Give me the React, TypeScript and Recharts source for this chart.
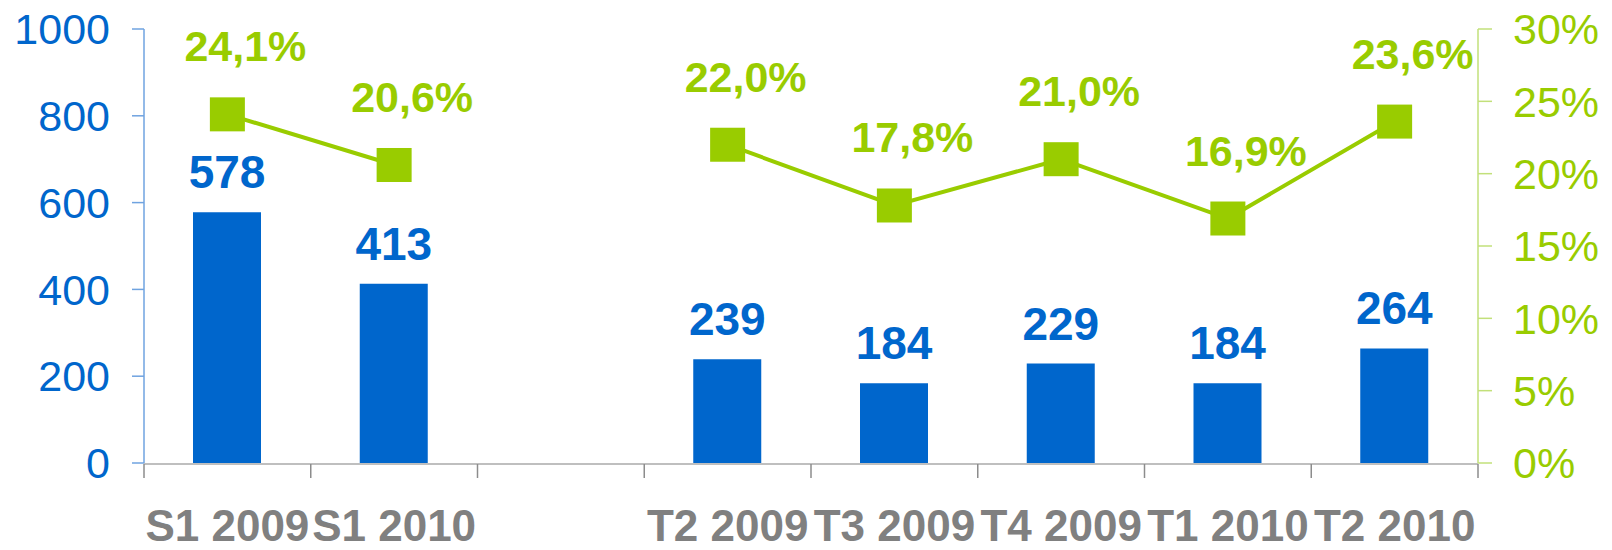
import React from "react";
import {
  ComposedChart,
  Bar,
  Line,
  XAxis,
  YAxis,
  LabelList,
} from "recharts";

const categories = ["S1 2009", "S1 2010", "", "T2 2009", "T3 2009", "T4 2009", "T1 2010", "T2 2010"];
const volume = [578, 413, null, 239, 184, 229, 184, 264];
const marginPct = [24.1, 20.6, null, 22.0, 17.8, 21.0, 16.9, 23.6];
const leftTicks = [0, 200, 400, 600, 800, 1000];
const rightTicks = [0, 5, 10, 15, 20, 25, 30];
const slotTicks = [0, 1, 2, 3, 4, 5, 6, 7, 8];

const data = categories.map((c, i) => ({ cat: c, slot: i + 0.5, volume: volume[i], pct: marginPct[i] }));

const BLUE = "#0066CC";
const GREEN = "#99CC00";
const FONT = "'Liberation Sans', Arial, sans-serif";

// category labels sit well below the axis line
function CatTick({ x, y, payload }: any) {
  return (
    <text x={x} y={y + 78} textAnchor="middle" fill="#808080" fontSize={44} fontWeight="bold" fontFamily={FONT}>
      {payload.value}
    </text>
  );
}

function SquareDot(p: any) {
  const { cx, cy, value, index } = p;
  if (value == null || cx == null || cy == null) return <g key={`d-${index}`} />;
  return <rect key={`d-${index}`} x={cx - 17.5} y={cy - 17} width={35} height={34} fill={GREEN} />;
}

function BarLabel({ x, y, width, value }: any) {
  if (value == null) return null;
  return (
    <text x={x + width / 2} y={y - 24} textAnchor="middle" fill={BLUE} fontSize={46} fontWeight="bold" fontFamily={FONT}>
      {value}
    </text>
  );
}

function PctLabel({ x, y, value }: any) {
  if (value == null) return null;
  return (
    <text x={x + 18} y={y - 53} textAnchor="middle" fill={GREEN} fontSize={43} fontWeight="bold" fontFamily={FONT}>
      {Number(value).toFixed(1).replace(".", ",")}%
    </text>
  );
}

export default function App() {
  return (
    <div style={{ position: "absolute", left: 0, top: 0, width: 1612, height: 550, background: "#fff" }}>
      <ComposedChart width={1612} height={550} data={data} margin={{ top: 29, right: 0, left: 0, bottom: 0 }}>
        <XAxis
          dataKey="cat"
          height={1}
          interval={0}
          axisLine={false}
          tickLine={false}
          tickSize={0}
          tickMargin={0}
          tick={<CatTick />}
        />
        <XAxis
          xAxisId="slots"
          dataKey="slot"
          type="number"
          domain={[0, 8]}
          ticks={slotTicks}
          allowDataOverflow
          height={86}
          interval={0}
          tick={() => <g />}
          tickSize={14}
          axisLine={{ stroke: "#BFBFBF", strokeWidth: 2 }}
          tickLine={{ stroke: "#8C8C8C", strokeWidth: 1.5 }}
        />
        <YAxis
          yAxisId="left"
          width={144}
          domain={[0, 1000]}
          ticks={leftTicks}
          interval={0}
          tickSize={12}
          tickMargin={22}
          axisLine={{ stroke: "#6FA3E0", strokeWidth: 1.5 }}
          tickLine={{ stroke: "#6FA3E0", strokeWidth: 1.5 }}
          tick={{ fill: BLUE, fontSize: 43, fontFamily: FONT }}
        />
        <YAxis
          yAxisId="right"
          orientation="right"
          width={134}
          domain={[0, 30]}
          ticks={rightTicks}
          interval={0}
          tickSize={14}
          tickMargin={21}
          tickFormatter={(v: number) => `${v}%`}
          axisLine={{ stroke: "#C2E07A", strokeWidth: 1.5 }}
          tickLine={{ stroke: "#C2E07A", strokeWidth: 1.5 }}
          tick={{ fill: GREEN, fontSize: 43, fontFamily: FONT, textAnchor: "start" }}
        />
        <Bar yAxisId="left" dataKey="volume" fill={BLUE} barSize={68} isAnimationActive={false}>
          <LabelList dataKey="volume" content={<BarLabel />} />
        </Bar>
        <Line
          yAxisId="right"
          dataKey="pct"
          stroke={GREEN}
          strokeWidth={4}
          dot={SquareDot}
          activeDot={false}
          isAnimationActive={false}
        >
          <LabelList dataKey="pct" content={<PctLabel />} />
        </Line>
      </ComposedChart>
    </div>
  );
}
